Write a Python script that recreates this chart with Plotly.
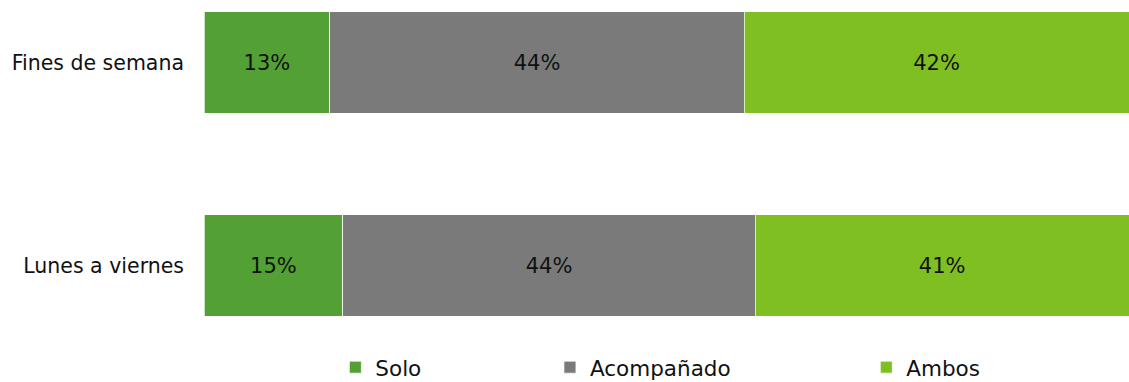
import plotly.graph_objects as go

categories = ["Lunes a viernes", "Fines de semana"]
series_names = ["Solo", "Acompañado", "Ambos"]
solo = [15.0, 13.6]
acompanado = [44.6, 44.8]
ambos = [40.4, 41.6]
solo_labels = ["15%", "13%"]
acompanado_labels = ["44%", "44%"]
ambos_labels = ["41%", "42%"]
colors = ["#53A034", "#7A7A7A", "#80BF22"]

FONT = "DejaVu Sans"

fig = go.Figure()
data = [solo, acompanado, ambos]
labels = [solo_labels, acompanado_labels, ambos_labels]
legend_ids = ["legend", "legend2", "legend3"]
for name, vals, lab, col, lg in zip(series_names, data, labels, colors, legend_ids):
    fig.add_trace(go.Bar(
        y=categories, x=vals, name=name, orientation="h",
        marker=dict(color=col, line=dict(color="rgba(255,255,255,0.7)", width=1)),
        text=lab, textposition="inside", insidetextanchor="middle",
        textfont=dict(family=FONT, size=21, color="#111111"),
        legend=lg, hoverinfo="skip",
    ))

leg_common = dict(orientation="h", yanchor="middle", y=-0.08, xanchor="left",
                  font=dict(family=FONT, size=21.5, color="#111111"),
                  bgcolor="rgba(0,0,0,0)", itemwidth=30)
fig.update_layout(
    barmode="stack",
    bargap=0.5,
    width=1129, height=382,
    margin=dict(l=204, r=0, t=0, b=42, autoexpand=False),
    plot_bgcolor="white", paper_bgcolor="white",
    showlegend=True,
    legend=dict(x=0.142, **leg_common),
    legend2=dict(x=0.374, **leg_common),
    legend3=dict(x=0.716, **leg_common),
    xaxis=dict(range=[0, 100], visible=False, fixedrange=True),
    yaxis=dict(range=[-0.367, 1.308], showgrid=False, zeroline=False, showline=False,
               ticks="", ticklabelstandoff=19,
               tickfont=dict(family=FONT, size=20.5, color="#111111")),
)

fig.write_html("out.html")
